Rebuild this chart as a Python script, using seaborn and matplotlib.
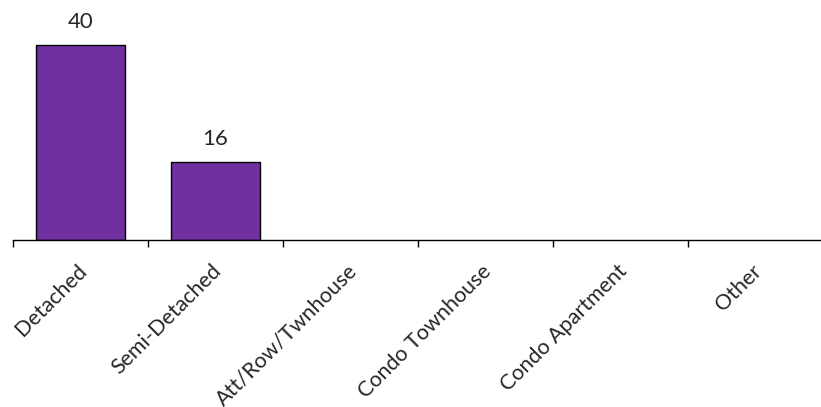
import numpy as np
import pandas as pd
import matplotlib
matplotlib.use('Agg')
import matplotlib.pyplot as plt
import matplotlib.transforms as mtransforms
import seaborn as sns

categories = ['Detached', 'Semi-Detached', 'Att/Row/Twnhouse', 'Condo Townhouse', 'Condo Apartment', 'Other']
counts = [40, 16, 0, 0, 0, 0]

df = pd.DataFrame({'Type': categories, 'Count': counts})

sns.set_style('white')
plt.rcParams['font.family'] = ['Lato', 'DejaVu Sans']

fig = plt.figure(figsize=(8.21, 4.07), dpi=100)
ax = fig.add_axes([13 / 821, 167 / 407, 810 / 821, 240 / 407])

sns.barplot(data=df, x='Type', y='Count', color='#7030A0', saturation=1,
            width=0.66, edgecolor='black', linewidth=1.0, ax=ax)

# empty categories should not show an outline
for p in ax.patches:
    if p.get_height() == 0:
        p.set_visible(False)

# value labels only for non-empty bars
for i, v in enumerate(counts):
    if v > 0:
        ax.text(i, v + 2.6, str(v), ha='center', va='bottom', fontsize=16)

ax.set_xlim(-0.5, len(categories) - 0.5)
ax.set_ylim(0, 49.2)
ax.set_xlabel('')
ax.set_ylabel('')
ax.set_yticks([])

for side in ['top', 'right', 'left']:
    ax.spines[side].set_visible(False)
ax.spines['bottom'].set_color('black')
ax.spines['bottom'].set_linewidth(1.0)

# ticks sit between categories, labels at the centres
ax.set_xticks(np.arange(-0.5, len(categories), 1.0), minor=True)
ax.tick_params(axis='x', which='minor', length=5, width=1, color='black', direction='out', bottom=True)
ax.tick_params(axis='x', which='major', length=0, pad=15)
ax.set_xticks(range(len(categories)))
ax.set_xticklabels(categories, rotation=45, ha='right', va='top',
                   rotation_mode='anchor', fontsize=15.5)

# nudge labels a little to the left
shift = mtransforms.ScaledTranslation(-4 / 100, 0, fig.dpi_scale_trans)
for lbl in ax.get_xticklabels():
    lbl.set_transform(lbl.get_transform() + shift)

fig.savefig('out.png', dpi=100)
